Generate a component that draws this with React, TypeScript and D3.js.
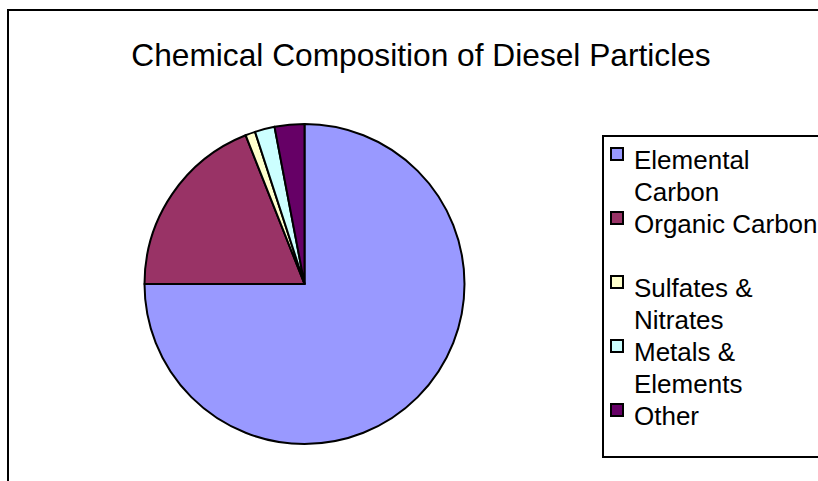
import * as d3 from "d3"
import { useEffect, useRef } from "react"

const categories = [
  "Elemental Carbon",
  "Organic Carbon",
  "Sulfates & Nitrates",
  "Metals & Elements",
  "Other",
]
const values = [75, 19, 1, 2, 3]
const colors = ["#9999FF", "#993366", "#FFFFCC", "#CCFFFF", "#660066"]
// how each legend label wraps in the legend box
const legendLines = [
  ["Elemental", "Carbon"],
  ["Organic Carbon", ""],
  ["Sulfates &", "Nitrates"],
  ["Metals &", "Elements"],
  ["Other"],
]
const title = "Chemical Composition of Diesel Particles"

const WIDTH = 818
const HEIGHT = 481
const FONT = "'Liberation Sans', Arial, sans-serif"

const App = () => {
  const svgRef = useRef<SVGSVGElement>(null)

  useEffect(() => {
    if (!svgRef.current) return
    const svg = d3.select(svgRef.current)
    svg.selectAll("*").remove()

    // chart area frame (runs off the right and bottom of the window)
    svg
      .append("rect")
      .attr("x", 8)
      .attr("y", 10)
      .attr("width", 840)
      .attr("height", 500)
      .attr("fill", "white")
      .attr("stroke", "black")
      .attr("stroke-width", 2)

    svg
      .append("text")
      .attr("x", 421)
      .attr("y", 66)
      .attr("text-anchor", "middle")
      .attr("font-family", FONT)
      .attr("font-size", "31.7px")
      .attr("fill", "black")
      .text(title)

    const cx = 304.5
    const cy = 284
    const radius = 160

    const pie = d3
      .pie<number>()
      .sort(null)
      .startAngle(0)
      .endAngle(2 * Math.PI)
    const arc = d3.arc<d3.PieArcDatum<number>>().innerRadius(0).outerRadius(radius)

    svg
      .append("g")
      .attr("transform", `translate(${cx}, ${cy})`)
      .selectAll("path")
      .data(pie(values))
      .join("path")
      .attr("d", arc)
      .attr("fill", (d, i) => colors[i])
      .attr("stroke", "black")
      .attr("stroke-width", 2)
      .attr("stroke-linejoin", "round")

    // legend
    const legend = svg.append("g")
    legend
      .append("rect")
      .attr("x", 603)
      .attr("y", 136)
      .attr("width", 260)
      .attr("height", 321)
      .attr("fill", "white")
      .attr("stroke", "black")
      .attr("stroke-width", 2)

    const lineH = 32
    const firstBase = 169
    categories.forEach((name, i) => {
      const base = firstBase + i * 2 * lineH
      legend
        .append("rect")
        .attr("x", 611)
        .attr("y", base - 21)
        .attr("width", 12)
        .attr("height", 12)
        .attr("fill", colors[i])
        .attr("stroke", "black")
        .attr("stroke-width", 2)
      const t = legend
        .append("text")
        .attr("font-family", FONT)
        .attr("font-size", "26px")
        .attr("fill", "black")
        .attr("aria-label", name)
      legendLines[i].forEach((line, j) => {
        t.append("tspan")
          .attr("x", 634)
          .attr("y", base + j * lineH)
          .text(line)
      })
    })
  }, [])

  return (
    <svg
      ref={svgRef}
      width={WIDTH}
      height={HEIGHT}
      style={{ position: "absolute", left: 0, top: 0, display: "block" }}
    />
  )
}

export default App
